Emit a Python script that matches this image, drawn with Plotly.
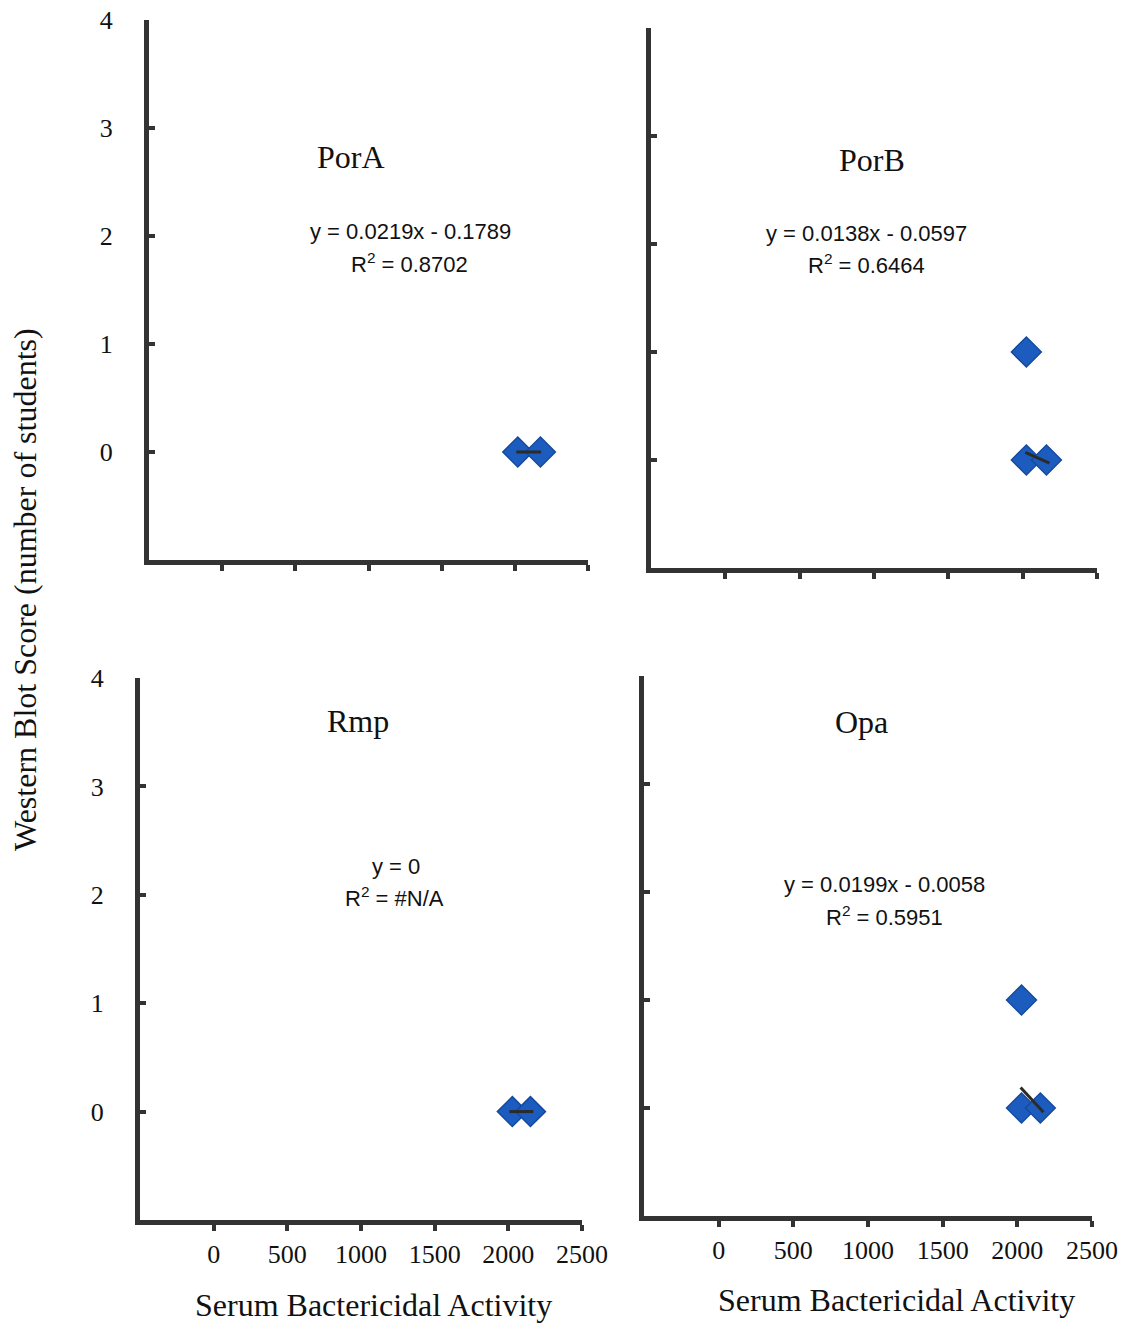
import plotly.graph_objects as go

W, H = 1125, 1324

# ---- data ----
panels = ["PorA", "PorB", "Rmp", "Opa"]
porA_x = [2020, 2175]
porA_y = [0, 0]
porB_x = [2025, 2025, 2160]
porB_y = [1, 0, 0]
rmp_x = [2027, 2150]
rmp_y = [0, 0]
opa_x = [2028, 2028, 2154]
opa_y = [1, 0, 0]

trend_porA_x = [2010, 2180]; trend_porA_y = [0, 0]
trend_porB_x = [2018, 2180]; trend_porB_y = [0.07, -0.03]
trend_rmp_x = [2007, 2169]; trend_rmp_y = [0, 0]
trend_opa_x = [2022, 2175]; trend_opa_y = [0.19, -0.04]

equations = ["y = 0.0219x - 0.1789", "y = 0.0138x - 0.0597", "y = 0", "y = 0.0199x - 0.0058"]
r2_labels = ["R<sup>2</sup> = 0.8702", "R<sup>2</sup> = 0.6464", "R<sup>2</sup> = #N/A", "R<sup>2</sup> = 0.5951"]

x_ticks = [0, 500, 1000, 1500, 2000, 2500]
y_ticks = [0, 1, 2, 3, 4]
x_range = [-500, 2500]
y_range = [-1, 4]

# pixel boxes (left, right, top, bottom) for each panel's plotting area
boxes = [(149, 588, 20, 560), (651, 1097, 28, 568), (140, 582, 678, 1220), (644, 1092, 676, 1216)]
title_pos = [(351, 157), (872, 160), (358, 721), (861, 722)]
eq_pos = [(410, 232), (866, 233), (396, 866), (884, 884)]
r2_pos = [(409, 263), (866, 264), (394, 897), (884, 916)]

xs = [porA_x, porB_x, rmp_x, opa_x]
ys = [porA_y, porB_y, rmp_y, opa_y]
txs = [trend_porA_x, trend_porB_x, trend_rmp_x, trend_opa_x]
tys = [trend_porA_y, trend_porB_y, trend_rmp_y, trend_opa_y]

def px(x):
    return x / W

def py(y):
    return 1 - y / H

fig = go.Figure()
AX = "#333333"
for i in range(4):
    n = "" if i == 0 else str(i + 1)
    l, r, t, b = boxes[i]
    fig.add_trace(go.Scatter(x=xs[i], y=ys[i], mode="markers",
                             marker=dict(symbol="diamond", size=23, color="#1d5cbf",
                                         line=dict(color="#154a9e", width=1.5)),
                             xaxis="x" + n, yaxis="y" + n, showlegend=False, cliponaxis=False))
    fig.add_trace(go.Scatter(x=txs[i], y=tys[i], mode="lines",
                             line=dict(color="#2b2b2b", width=3),
                             xaxis="x" + n, yaxis="y" + n, showlegend=False))
    bottom = i >= 2
    leftp = i % 2 == 0
    fig.layout["xaxis" + n] = dict(
        domain=[px(l), px(r)], range=x_range, anchor="y" + n, automargin=False,
        showline=True, linecolor=AX, linewidth=5, showgrid=False, zeroline=False,
        tickvals=x_ticks, ticktext=[str(v) for v in x_ticks], showticklabels=bottom,
        ticks="outside", ticklen=6, tickwidth=4, tickcolor=AX,
        tickfont=dict(family="Liberation Serif", size=26, color="#111"),
        ticklabelstandoff=1,
    )
    fig.layout["yaxis" + n] = dict(
        domain=[py(b), py(t)], range=y_range, anchor="x" + n, automargin=False,
        showline=True, linecolor=AX, linewidth=5, showgrid=False, zeroline=False,
        tickvals=y_ticks, showticklabels=leftp,
        ticks="inside", ticklen=6, tickwidth=4, tickcolor=AX,
        tickfont=dict(family="Liberation Serif", size=26, color="#111"),
        ticklabelstandoff=26,
    )

def note(x, y, text, family, size, angle=0):
    return dict(x=px(x), y=py(y), xref="paper", yref="paper", xanchor="center", yanchor="middle",
                text=text, showarrow=False, textangle=angle,
                font=dict(family=family, size=size, color="#111"))

ann = []
for i in range(4):
    ann.append(note(*title_pos[i], panels[i], "Liberation Serif", 32))
    ann.append(note(*eq_pos[i], equations[i], "Liberation Sans", 22))
    ann.append(note(*r2_pos[i], r2_labels[i], "Liberation Sans", 22))

ann.append(note(25, 590, "Western Blot Score (number of students)", "Liberation Serif", 32, -90))
ann.append(note(373, 1305, "Serum Bactericidal Activity", "Liberation Serif", 32))
ann.append(note(896, 1300, "Serum Bactericidal Activity", "Liberation Serif", 32))

fig.update_layout(width=W, height=H, margin=dict(l=0, r=0, t=0, b=0, autoexpand=False),
                  paper_bgcolor="white", plot_bgcolor="white", annotations=ann)

fig.write_html("out.html", config={"displayModeBar": False},
               post_script="document.body.style.margin='0';")
